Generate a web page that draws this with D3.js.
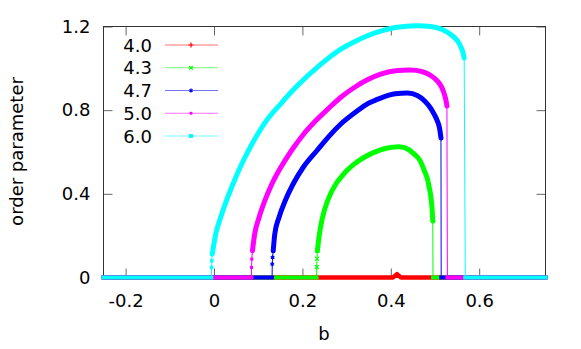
<!DOCTYPE html>
<html>
<head>
<meta charset="utf-8">
<script src="https://cdn.jsdelivr.net/npm/d3@7"></script>
<style>
  html, body { margin: 0; padding: 0; background: #fff; }
  svg { display: block; font-family: "DejaVu Sans", sans-serif; }
</style>
</head>
<body>
<div id="chart"></div>
<script>
const SERIES_LABELS = ["4.0", "4.3", "4.7", "5.0", "6.0"];
const SERIES_COLORS = ["#ff0000", "#00ff00", "#0000ff", "#ff00ff", "#00ffff"];

const X_DOMAIN = [-0.25, 0.75];
const Y_DOMAIN = [0, 1.2];
const X_TICKS = [-0.2, 0, 0.2, 0.4, 0.6];
const X_TICK_LABELS = ["-0.2", "0", "0.2", "0.4", "0.6"];
const Y_TICKS = [0, 0.4, 0.8, 1.2];
const Y_TICK_LABELS = ["0", "0.4", "0.8", "1.2"];

// b where the branch leaves zero, and where it drops back to zero
const ONSET = [null, 0.232, 0.1314, 0.0847, -0.006];
const JUMP = [null, 0.4955, 0.514, 0.528, 0.5685];

// [b, order parameter]
const ARC_40 = [[-0.25, 0], [0.405, 0], [0.41, 0.008], [0.414, 0.016], [0.418, 0.008], [0.423, 0], [0.75, 0]];
const ARC_43 = [[0.2325, 0.05], [0.233, 0.09], [0.234, 0.128], [0.238, 0.2], [0.2455, 0.287], [0.257, 0.367],
  [0.2757, 0.447], [0.287, 0.478], [0.3, 0.51], [0.317, 0.542], [0.34, 0.575], [0.362, 0.598], [0.39, 0.618],
  [0.419, 0.625], [0.44, 0.612], [0.453, 0.59], [0.466, 0.56], [0.476, 0.51], [0.483, 0.47], [0.487, 0.43],
  [0.491, 0.38], [0.493, 0.34], [0.495, 0.27]];
const ARC_47 = [[0.1318, 0.064], [0.1325, 0.096], [0.134, 0.128], [0.1375, 0.208], [0.147, 0.287], [0.161, 0.367],
  [0.179, 0.447], [0.2016, 0.526], [0.2326, 0.606], [0.26, 0.675], [0.287, 0.734], [0.32, 0.79], [0.347, 0.83],
  [0.377, 0.858], [0.41, 0.878], [0.438, 0.882], [0.46, 0.87], [0.476, 0.845], [0.49, 0.81], [0.498, 0.781],
  [0.505, 0.75], [0.51, 0.717], [0.5135, 0.667]];
const ARC_50 = [[0.085, 0.048], [0.0855, 0.088], [0.087, 0.128], [0.092, 0.208], [0.102, 0.287], [0.115, 0.367],
  [0.131, 0.447], [0.151, 0.526], [0.175, 0.606], [0.2, 0.678], [0.23, 0.749], [0.26, 0.81], [0.287, 0.862],
  [0.32, 0.912], [0.347, 0.945], [0.377, 0.972], [0.41, 0.988], [0.445, 0.992], [0.47, 0.985], [0.49, 0.966],
  [0.505, 0.94], [0.515, 0.91], [0.521, 0.877], [0.525, 0.845], [0.527, 0.82]];
const ARC_60 = [[-0.0055, 0.048], [-0.005, 0.08], [-0.004, 0.112], [0.004, 0.208], [0.015, 0.287], [0.029, 0.372],
  [0.043, 0.447], [0.059, 0.526], [0.075, 0.595], [0.096, 0.675], [0.117, 0.745], [0.15, 0.828], [0.185, 0.909],
  [0.242, 1.02], [0.287, 1.092], [0.32, 1.13], [0.347, 1.156], [0.377, 1.178], [0.41, 1.195], [0.46, 1.204],
  [0.49, 1.2], [0.5135, 1.188], [0.53, 1.17], [0.5436, 1.148], [0.553, 1.125], [0.559, 1.1], [0.564, 1.07],
  [0.566, 1.049]];

const ARCS = [ARC_40, ARC_43, ARC_47, ARC_50, ARC_60];

const MARKERS = [
  d3.symbolPlus || d3.symbolCross,
  d3.symbolTimes || d3.symbolCross,
  d3.symbolAsterisk || d3.symbolStar,
  d3.symbolSquare2 || d3.symbolSquare,
  d3.symbolSquare
];

renderChart();

function renderChart() {
  const fullWidth = 581, fullHeight = 349;
  const margin = { top: 26, right: 36, bottom: 72, left: 103 };
  const width = fullWidth - margin.left - margin.right;
  const height = fullHeight - margin.top - margin.bottom;

  const root = d3.select("#chart")
    .append("svg")
    .attr("width", fullWidth)
    .attr("height", fullHeight);

  root.append("rect").attr("width", fullWidth).attr("height", fullHeight).attr("fill", "#fff");

  const svg = root.append("g")
    .attr("transform", `translate(${margin.left + 0.5},${margin.top + 0.5})`);

  const x = d3.scaleLinear().domain(X_DOMAIN).range([0, width]);
  const y = d3.scaleLinear().domain(Y_DOMAIN).range([height, 0]);

  // axes: ticks point inwards, mirrored on top and right
  const styleAxis = g => {
    g.select(".domain").remove();
    g.selectAll(".tick line").attr("stroke", "#666");
    g.selectAll(".tick text").attr("font-size", "18px").attr("fill", "#000")
      .attr("font-family", "DejaVu Sans, sans-serif");
  };

  svg.append("g")
    .attr("transform", `translate(0,${height})`)
    .call(d3.axisBottom(x).tickValues(X_TICKS).tickSize(-9).tickPadding(17)
      .tickFormat((d, i) => X_TICK_LABELS[i]))
    .call(styleAxis);

  svg.append("g")
    .call(d3.axisTop(x).tickValues(X_TICKS).tickSize(-9).tickFormat(""))
    .call(styleAxis);

  svg.append("g")
    .call(d3.axisLeft(y).tickValues(Y_TICKS).tickSize(-9).tickPadding(13)
      .tickFormat((d, i) => Y_TICK_LABELS[i]))
    .call(styleAxis);

  svg.append("g")
    .attr("transform", `translate(${width},0)`)
    .call(d3.axisRight(y).tickValues(Y_TICKS).tickSize(-9).tickFormat(""))
    .call(styleAxis);

  svg.append("rect")
    .attr("width", width)
    .attr("height", height)
    .attr("fill", "none")
    .attr("stroke", "#333");

  // axis titles
  root.append("text")
    .attr("x", margin.left + width / 2)
    .attr("y", 340)
    .attr("text-anchor", "middle")
    .attr("font-size", "18px")
    .text("b");

  root.append("text")
    .attr("transform", "rotate(-90)")
    .attr("x", -(margin.top + height / 2))
    .attr("y", 23)
    .attr("text-anchor", "middle")
    .attr("font-size", "18px")
    .text("order parameter");

  const line = d3.line().x(d => x(d[0])).y(d => y(d[1]));
  const smooth = d3.line().x(d => x(d[0])).y(d => y(d[1])).curve(d3.curveMonotoneX);

  ARCS.forEach((arc, i) => {
    const color = SERIES_COLORS[i];
    const g = svg.append("g");

    if (ONSET[i] === null) {
      g.append("path").attr("d", line(arc))
        .attr("fill", "none").attr("stroke", color)
        .attr("stroke-width", 4.5).attr("stroke-linejoin", "round");
      return;
    }

    const zeroLeft = [[X_DOMAIN[0], 0], [ONSET[i], 0]];
    const zeroRight = [[JUMP[i], 0], [X_DOMAIN[1], 0]];
    const full = [[ONSET[i], 0], ...arc, [JUMP[i], 0]];
    const dense = arc.filter(d => d[1] >= 0.1);
    const sparse = arc.filter(d => d[1] < 0.13);

    [zeroLeft, zeroRight].forEach(seg => {
      g.append("path").attr("d", line(seg))
        .attr("fill", "none").attr("stroke", color)
        .attr("stroke-width", 4).attr("stroke-linecap", "square");
    });

    g.append("path").attr("d", line(full))
      .attr("fill", "none").attr("stroke", color).attr("stroke-width", 1);

    g.append("path").attr("d", smooth(dense))
      .attr("fill", "none").attr("stroke", color)
      .attr("stroke-width", 5).attr("stroke-linecap", "round").attr("stroke-linejoin", "round");

    const marker = d3.symbol().type(MARKERS[i]).size(12);
    const strokeType = i < 3;
    g.selectAll(".pt")
      .data(sparse)
      .enter()
      .append("path")
      .attr("transform", d => `translate(${x(d[0])},${y(d[1])})`)
      .attr("d", marker)
      .attr("fill", strokeType ? "none" : color)
      .attr("stroke", strokeType ? color : "none")
      .attr("stroke-width", 1.2);
  });

  // legend
  const legend = root.append("g");
  SERIES_LABELS.forEach((label, i) => {
    const ly = 45 + i * 22.75;
    legend.append("text")
      .attr("x", 152)
      .attr("y", ly + 6.5)
      .attr("text-anchor", "end")
      .attr("font-size", "18px")
      .text(label);
    legend.append("line")
      .attr("x1", 165).attr("x2", 218)
      .attr("y1", ly).attr("y2", ly)
      .attr("stroke", SERIES_COLORS[i])
      .attr("stroke-opacity", 0.55)
      .attr("stroke-width", 1.2);
    const marker = d3.symbol().type(MARKERS[i]).size(i === 4 ? 16 : 10);
    legend.append("path")
      .attr("transform", `translate(191,${ly})`)
      .attr("d", marker)
      .attr("fill", i < 3 ? "none" : SERIES_COLORS[i])
      .attr("stroke", i < 3 ? SERIES_COLORS[i] : "none")
      .attr("stroke-width", 1.2);
  });
}
</script>
</body>
</html>
